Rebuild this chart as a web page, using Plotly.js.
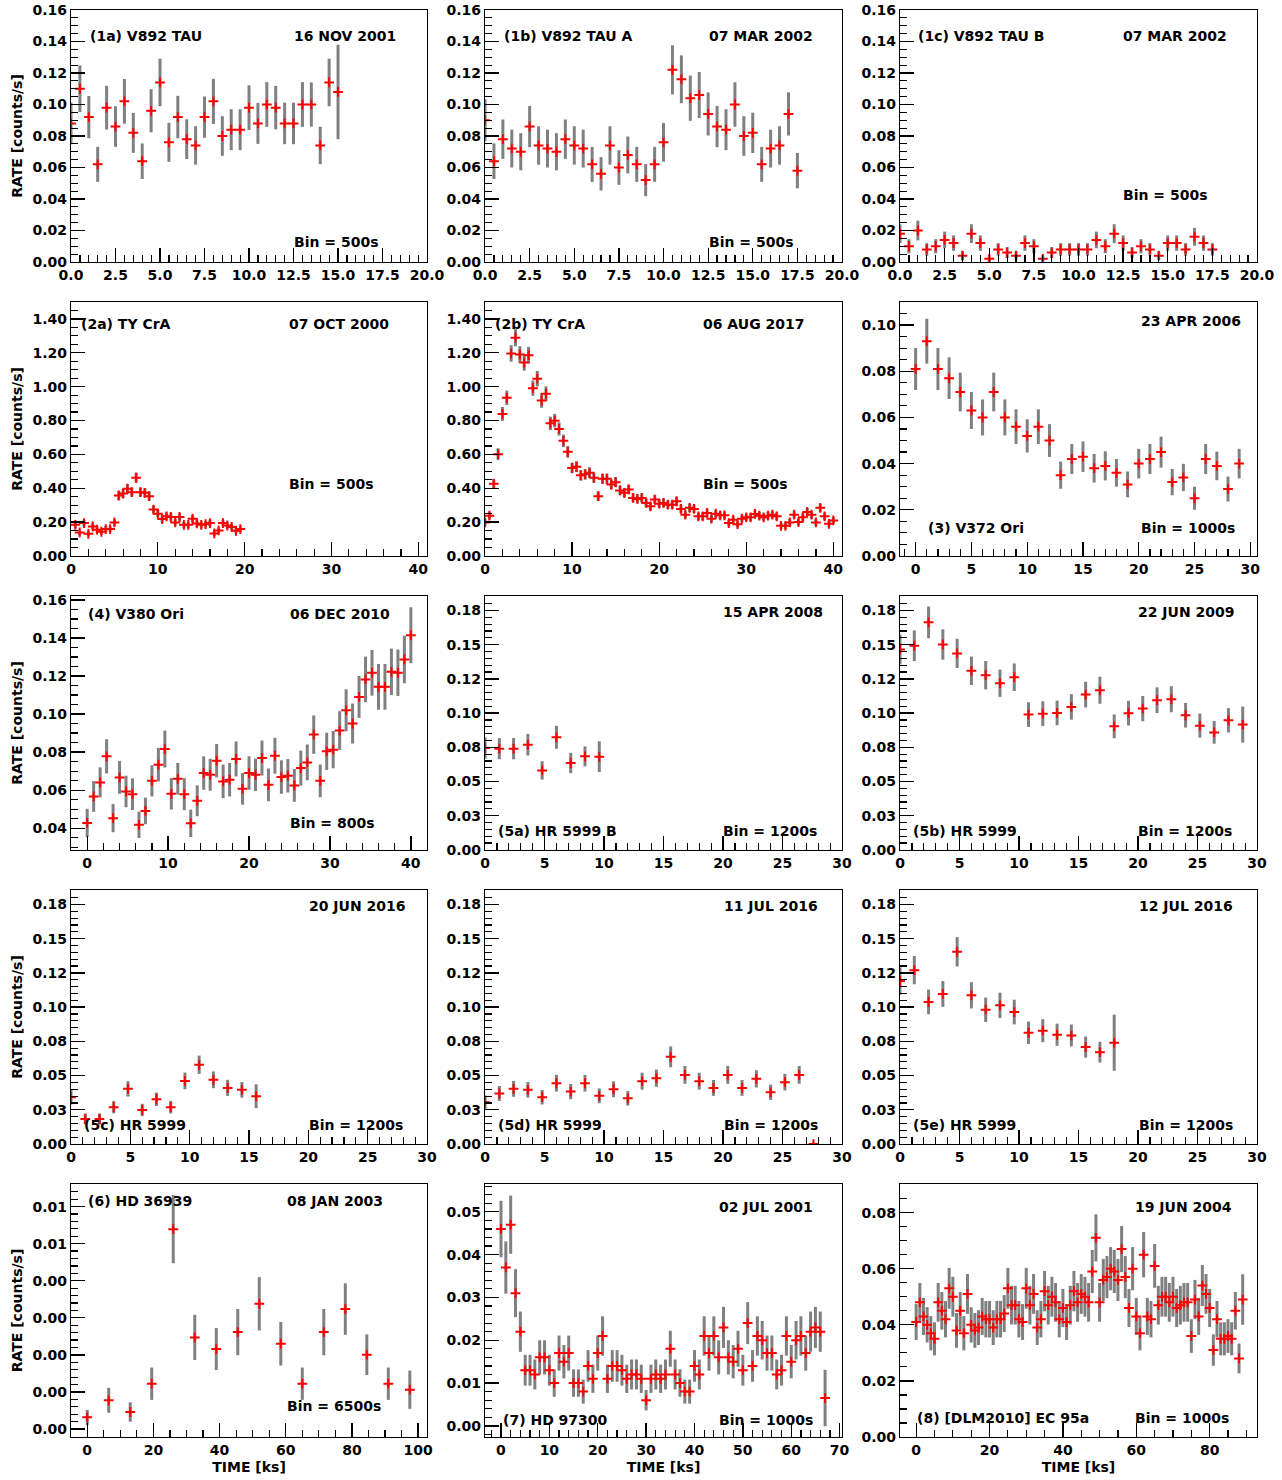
<!DOCTYPE html>
<html>
<head>
<meta charset="utf-8">
<script src="https://cdn.plot.ly/plotly-3.0.1.min.js"></script>
<style>
  html, body { margin: 0; padding: 0; background: #ffffff; }
  #lc { width: 1282px; height: 1480px; }
</style>
</head>
<body>
<div id="lc"></div>
<script>
// ---- X-ray light curves: time (ks), rate (counts/s), 1-sigma error ----

// (1a) V892 TAU, 16 NOV 2001, bin 500 s
const t1a = [0,0.5,1,1.5,2,2.5,3,3.5,4,4.5,5,5.5,6,6.5,7,7.5,8,8.5,9,9.5,10,10.5,11,11.5,12,12.5,13,13.5,14,14.5,15];
const r1a = [0.088,0.110,0.092,0.062,0.098,0.086,0.102,0.082,0.064,0.096,0.114,0.076,0.092,0.078,0.074,0.092,0.102,0.080,0.084,0.084,0.098,0.088,0.100,0.098,0.088,0.088,0.100,0.100,0.074,0.114,0.108];
const e1a = [0.0133,0.0148,0.0134,0.0111,0.0139,0.0129,0.0142,0.0127,0.0113,0.0137,0.0151,0.0124,0.0135,0.0126,0.0122,0.0131,0.0143,0.0126,0.0130,0.0130,0.0142,0.0130,0.0142,0.0138,0.0132,0.0132,0.0142,0.0140,0.0119,0.0151,0.0300];

// (1b) V892 TAU A, 07 MAR 2002, bin 500 s
const t1b = [0,0.5,1,1.5,2,2.5,3,3.5,4,4.5,5,5.5,6,6.5,7,7.5,8,8.5,9,9.5,10,10.5,11,11.5,12,12.5,13,13.5,14,14.5,15,15.5,16,16.5,17,17.5];
const r1b = [0.090,0.064,0.078,0.072,0.070,0.086,0.074,0.072,0.070,0.078,0.074,0.072,0.062,0.056,0.074,0.060,0.068,0.062,0.052,0.062,0.076,0.122,0.116,0.104,0.106,0.094,0.086,0.084,0.100,0.080,0.082,0.062,0.072,0.074,0.094,0.058];
const e1b = [0.0134,0.0113,0.0125,0.0120,0.0118,0.0131,0.0122,0.0120,0.0118,0.0125,0.0122,0.0120,0.0111,0.0106,0.0122,0.0110,0.0117,0.0111,0.0102,0.0111,0.0123,0.0156,0.0152,0.0144,0.0146,0.0137,0.0131,0.0130,0.0141,0.0126,0.0128,0.0111,0.0120,0.0122,0.0137,0.0112];

// (1c) V892 TAU B, 07 MAR 2002, bin 500 s
const t1c = [0,0.5,1,1.5,2,2.5,3,3.5,4,4.5,5,5.5,6,6.5,7,7.5,8,8.5,9,9.5,10,10.5,11,11.5,12,12.5,13,13.5,14,14.5,15,15.5,16,16.5,17,17.5];
const r1c = [0.018,0.010,0.020,0.008,0.010,0.014,0.012,0.004,0.018,0.012,0.002,0.008,0.006,0.004,0.012,0.010,0.002,0.006,0.008,0.008,0.008,0.008,0.014,0.010,0.018,0.012,0.006,0.010,0.008,0.004,0.012,0.012,0.008,0.016,0.012,0.008];
const e1c = [0.0060,0.0045,0.0063,0.0040,0.0045,0.0053,0.0049,0.0028,0.0060,0.0049,0.0020,0.0040,0.0035,0.0028,0.0049,0.0045,0.0020,0.0035,0.0040,0.0040,0.0040,0.0040,0.0053,0.0045,0.0060,0.0049,0.0035,0.0045,0.0040,0.0028,0.0049,0.0049,0.0040,0.0057,0.0049,0.0040];

// (2a) TY CrA, 07 OCT 2000, bin 500 s
const t2a = [0.5,1,1.5,2,2.5,3,3.5,4,4.5,5,5.5,6,6.5,7,7.5,8,8.5,9,9.5,10,10.5,11,11.5,12,12.5,13,13.5,14,14.5,15,15.5,16,16.5,17,17.5,18,18.5,19,19.5];
const r2a = [0.184,0.139,0.194,0.131,0.174,0.155,0.143,0.159,0.159,0.198,0.357,0.369,0.397,0.377,0.462,0.377,0.373,0.353,0.274,0.250,0.218,0.234,0.230,0.198,0.230,0.184,0.184,0.220,0.192,0.184,0.188,0.194,0.133,0.151,0.194,0.180,0.171,0.149,0.159];
const e2a = [0.019,0.017,0.020,0.016,0.019,0.018,0.017,0.018,0.018,0.020,0.027,0.027,0.028,0.027,0.030,0.027,0.027,0.027,0.023,0.022,0.021,0.022,0.021,0.020,0.021,0.019,0.019,0.021,0.020,0.019,0.019,0.020,0.016,0.017,0.020,0.019,0.018,0.017,0.018];

// (2b) TY CrA, 06 AUG 2017, bin 500 s
const t2b = [0,0.5,1,1.5,2,2.5,3,3.5,4,4.5,5,5.5,6,6.5,7,7.5,8,8.5,9,9.5,10,10.5,11,11.5,12,12.5,13,13.5,14,14.5,15,15.5,16,16.5,17,17.5,18,18.5,19,19.5,20,20.5,21,21.5,22,22.5,23,23.5,24,24.5,25,25.5,26,26.5,27,27.5,28,28.5,29,29.5,30,30.5,31,31.5,32,32.5,33,33.5,34,34.5,35,35.5,36,36.5,37,37.5,38,38.5,39,39.5,40];
const r2b = [0.198,0.238,0.426,0.601,0.839,0.934,1.196,1.289,1.190,1.142,
             1.186,0.991,1.047,0.918,0.958,0.783,0.799,0.750,0.680,0.615,
             0.520,0.527,0.476,0.482,0.492,0.462,0.353,0.456,0.456,0.422,
             0.436,0.387,0.373,0.393,0.343,0.337,0.343,0.313,0.293,0.333,
             0.309,0.313,0.303,0.303,0.323,0.278,0.244,0.284,0.278,0.234,
             0.234,0.254,0.220,0.250,0.240,0.240,0.194,0.214,0.188,0.220,
             0.228,0.228,0.248,0.238,0.228,0.238,0.244,0.234,0.178,0.178,
             0.198,0.244,0.200,0.228,0.260,0.244,0.198,0.284,0.234,0.190,0.210];
const e2b = [0.020,0.022,0.029,0.035,0.041,0.043,0.049,0.051,0.049,0.048,
             0.049,0.045,0.046,0.043,0.044,0.040,0.040,0.039,0.037,0.035,
             0.032,0.032,0.031,0.031,0.031,0.030,0.027,0.030,0.030,0.029,
             0.030,0.028,0.027,0.028,0.026,0.026,0.026,0.025,0.024,0.026,
             0.025,0.025,0.025,0.025,0.025,0.024,0.022,0.024,0.024,0.022,
             0.022,0.023,0.021,0.022,0.022,0.022,0.020,0.021,0.019,0.021,
             0.021,0.021,0.022,0.022,0.021,0.022,0.022,0.022,0.019,0.019,
             0.020,0.022,0.020,0.021,0.023,0.022,0.020,0.024,0.022,0.019,0.020];

// (3) V372 Ori, 23 APR 2006, bin 1000 s
const t3 = [0,1,2,3,4,5,6,7,8,9,10,11,12,13,14,15,16,17,18,19,20,21,22,23,24,25,26,27,28,29];
const r3 = [0.081,0.093,0.081,0.077,0.071,0.063,0.060,0.071,0.060,0.056,0.052,0.056,0.050,0.035,0.042,0.043,0.038,0.039,0.036,0.031,0.040,0.042,0.045,0.032,0.034,0.025,0.042,0.039,0.029,0.040];
const e3 = [0.0091,0.0097,0.0091,0.0090,0.0084,0.0080,0.0078,0.0084,0.0078,0.0075,0.0072,0.0075,0.0071,0.0059,0.0065,0.0066,0.0062,0.0063,0.0060,0.0056,0.0064,0.0065,0.0067,0.0057,0.0059,0.0050,0.0065,0.0062,0.0054,0.0064];

// (4) V380 Ori, 06 DEC 2010, bin 800 s
const t4 = [0,0.8,1.6,2.4,3.2,4,4.8,5.6,6.4,7.2,8,8.8,9.6,10.4,11.2,12,12.8,13.6,14.4,15.2,16,16.8,17.6,18.4,19.2,20,20.8,21.6,22.4,23.2,24,24.8,25.6,26.4,27.2,28,28.8,29.6,30.4,31.2,32,32.8,33.6,34.4,35.2,36,36.8,37.6,38.4,39.2,40];
const r4 = [0.0428,0.0567,0.0641,0.0778,0.0453,0.0667,0.0593,0.0579,0.0418,0.0491,
            0.0649,0.0734,0.0816,0.0581,0.0660,0.0579,0.0426,0.0544,0.0690,0.0681,
            0.0755,0.0646,0.0655,0.0764,0.0607,0.0690,0.0681,0.0769,0.0628,0.0781,
            0.0669,0.0676,0.0625,0.0716,0.0746,0.0892,0.0649,0.0804,0.0813,0.0913,
            0.1020,0.0950,0.1090,0.1182,0.1217,0.1143,0.1143,0.1222,0.1217,0.1287,0.1414];
const e4 = [0.0074,0.0081,0.0079,0.0090,0.0074,0.0086,0.0083,0.0083,0.0069,0.0070,
            0.0082,0.0088,0.0097,0.0083,0.0083,0.0084,0.0072,0.0081,0.0088,0.0084,
            0.0088,0.0088,0.0088,0.0092,0.0083,0.0088,0.0085,0.0092,0.0086,0.0094,
            0.0088,0.0088,0.0086,0.0092,0.0094,0.0101,0.0086,0.0098,0.0098,0.0102,
            0.0110,0.0105,0.0110,0.0120,0.0120,0.0120,0.0120,0.0122,0.0122,0.0125,0.0147];

// (5a) HR 5999 B, 15 APR 2008, bin 1200 s
const t5a = [0,1.2,2.4,3.6,4.8,6.0,7.2,8.4,9.6];
const r5a = [0.0745,0.0740,0.0740,0.0769,0.0581,0.0823,0.0635,0.0684,0.0681];
const e5a = [0.0078,0.0077,0.0078,0.0079,0.0067,0.0084,0.0074,0.0073,0.0112];

// (5b) HR 5999, 22 JUN 2009, bin 1200 s
const t5b = [0,1.2,2.4,3.6,4.8,6.0,7.2,8.4,9.6,10.8,12.0,13.2,14.4,15.6,16.8,18.0,19.2,20.4,21.6,22.8,24.0,25.2,26.4,27.6,28.8];
const r5b = [0.1465,0.1492,0.1663,0.1501,0.1436,0.1309,0.1277,0.1218,0.1262,0.0989,0.0996,0.1001,0.1045,0.1135,0.1167,0.0903,0.0999,0.1033,0.1094,0.1101,0.0984,0.0908,0.0859,0.0947,0.0916];
const e5b = [0.0110,0.0112,0.0116,0.0111,0.0107,0.0104,0.0104,0.0100,0.0101,0.0090,0.0090,0.0090,0.0093,0.0094,0.0099,0.0087,0.0090,0.0092,0.0094,0.0095,0.0090,0.0088,0.0083,0.0089,0.0132];

// (5c) HR 5999, 20 JUN 2016, bin 1200 s
const t5c = [0,1.2,2.4,3.6,4.8,6.0,7.2,8.4,9.6,10.8,12.0,13.2,14.4,15.6];
const r5c = [0.0342,0.0183,0.0183,0.0269,0.0403,0.0249,0.0327,0.0269,0.0461,0.0579,0.0469,0.0410,0.0396,0.0349];
const e5c = [0.0053,0.0040,0.0040,0.0045,0.0056,0.0045,0.0049,0.0046,0.0061,0.0067,0.0061,0.0059,0.0057,0.0087];

// (5d) HR 5999, 11 JUL 2016, bin 1200 s
const t5d = [0,1.2,2.4,3.6,4.8,6.0,7.2,8.4,9.6,10.8,12.0,13.2,14.4,15.6,16.8,18.0,19.2,20.4,21.6,22.8,24.0,25.2,26.4,27.6];
const r5d = [0.0305,0.0369,0.0403,0.0396,0.0342,0.0444,0.0383,0.0444,0.0352,0.0400,0.0334,0.0459,0.0481,0.0637,0.0505,0.0459,0.0410,0.0505,0.0410,0.0476,0.0378,0.0452,0.0505,0.0000];
const e5d = [0.0050,0.0055,0.0058,0.0057,0.0053,0.0061,0.0056,0.0061,0.0054,0.0058,0.0053,0.0062,0.0063,0.0076,0.0065,0.0062,0.0058,0.0065,0.0058,0.0063,0.0056,0.0061,0.0065,0.0010];

// (5e) HR 5999, 12 JUL 2016, bin 1200 s
const t5e = [0,1.2,2.4,3.6,4.8,6.0,7.2,8.4,9.6,10.8,12.0,13.2,14.4,15.6,16.8,18.0];
const r5e = [0.1191,0.1270,0.1038,0.1096,0.1404,0.1086,0.0981,0.1013,0.0964,0.0813,0.0828,0.0798,0.0793,0.0708,0.0671,0.0740];
const e5e = [0.0100,0.0103,0.0090,0.0094,0.0107,0.0096,0.0089,0.0093,0.0090,0.0082,0.0084,0.0081,0.0080,0.0077,0.0076,0.0205];

// (6) HD 36939, 08 JAN 2003, bin 6500 s
const t6 = [0,6.5,13,19.5,26,32.5,39,45.5,52,58.5,65,71.5,78,84.5,91,97.5];
const r6 = [0.000314,0.000773,0.000458,0.001222,0.005391,0.002471,0.002156,0.002615,0.003378,0.002300,0.001222,0.002615,0.003235,0.002004,0.001222,0.001060];
const e6 = [0.000202,0.000337,0.000261,0.000436,0.000920,0.000611,0.000566,0.000624,0.000719,0.000588,0.000436,0.000624,0.000696,0.000548,0.000436,0.000517];

// (7) HD 97300, 02 JUL 2001, bin 1000 s
const t7 = [0,1,2,3,4,5,6,7,8,9,10,11,12,13,14,15,16,17,18,19,20,21,22,23,24,25,26,27,28,29,30,31,32,33,34,35,36,37,38,39,40,41,42,43,44,45,46,47,48,49,50,51,52,53,54,55,56,57,58,59,60,61,62,63,64,65,66,67];
const r7 = [0.046,0.037,0.047,0.031,0.022,0.013,0.013,0.012,0.016,0.016,
            0.013,0.010,0.017,0.015,0.017,0.010,0.010,0.008,0.014,0.011,
            0.017,0.021,0.011,0.014,0.014,0.013,0.011,0.012,0.012,0.011,
            0.006,0.011,0.012,0.011,0.012,0.018,0.012,0.010,0.008,0.008,
            0.014,0.012,0.021,0.017,0.021,0.016,0.023,0.016,0.015,0.018,
            0.013,0.024,0.014,0.021,0.020,0.017,0.017,0.012,0.013,0.021,
            0.015,0.020,0.021,0.017,0.022,0.023,0.022,0.0065];
const e7 = [0.0066,0.0061,0.0068,0.0056,0.0047,0.0036,0.0036,0.0035,0.0040,0.0040,
            0.0036,0.0032,0.0041,0.0039,0.0041,0.0032,0.0032,0.0028,0.0037,0.0033,
            0.0041,0.0046,0.0033,0.0037,0.0037,0.0036,0.0033,0.0035,0.0035,0.0033,
            0.0024,0.0033,0.0035,0.0033,0.0035,0.0042,0.0035,0.0032,0.0028,0.0028,
            0.0037,0.0035,0.0046,0.0041,0.0046,0.0040,0.0048,0.0040,0.0039,0.0042,
            0.0036,0.0049,0.0037,0.0046,0.0045,0.0041,0.0041,0.0035,0.0036,0.0046,
            0.0039,0.0045,0.0046,0.0041,0.0047,0.0048,0.0047,0.0066];

// (8) [DLM2010] EC 95a, 19 JUN 2004, bin 1000 s
const t8 = [0,1,2,3,4,5,6,7,8,9,10,11,12,13,14,15,16,17,18,19,20,21,22,23,24,25,26,27,28,29,30,31,32,33,34,35,36,37,38,39,40,41,42,43,44,45,46,47,48,49,50,51,52,53,54,55,56,57,58,59,60,61,62,63,64,65,66,67,68,69,70,71,72,73,74,75,76,77,78,79,80,81,82,83,84,85,86,87,88,89];
const r8 = [0.041,0.048,0.043,0.040,0.037,0.035,0.048,0.045,0.042,0.053,
            0.050,0.038,0.045,0.037,0.051,0.040,0.038,0.039,0.043,0.042,
            0.042,0.039,0.042,0.042,0.044,0.053,0.047,0.047,0.042,0.041,
            0.053,0.047,0.051,0.039,0.042,0.052,0.047,0.050,0.048,0.042,
            0.046,0.041,0.047,0.052,0.048,0.051,0.050,0.048,0.059,0.071,
            0.048,0.056,0.057,0.060,0.059,0.056,0.067,0.057,0.046,0.060,
            0.043,0.037,0.065,0.043,0.042,0.061,0.047,0.050,0.050,0.048,
            0.050,0.046,0.047,0.048,0.048,0.036,0.049,0.043,0.054,0.051,
            0.046,0.031,0.042,0.035,0.035,0.036,0.035,0.045,0.028,0.049];
const e8 = [0.0064,0.0069,0.0066,0.0063,0.0061,0.0059,0.0069,0.0067,0.0065,0.0073,
            0.0071,0.0062,0.0067,0.0061,0.0071,0.0063,0.0062,0.0062,0.0066,0.0065,
            0.0065,0.0062,0.0065,0.0065,0.0066,0.0073,0.0069,0.0069,0.0065,0.0064,
            0.0073,0.0069,0.0071,0.0062,0.0065,0.0072,0.0069,0.0071,0.0069,0.0065,
            0.0068,0.0064,0.0069,0.0072,0.0069,0.0071,0.0071,0.0069,0.0077,0.0084,
            0.0069,0.0075,0.0075,0.0077,0.0077,0.0075,0.0082,0.0075,0.0068,0.0077,
            0.0066,0.0061,0.0081,0.0066,0.0065,0.0078,0.0069,0.0071,0.0071,0.0069,
            0.0071,0.0068,0.0069,0.0069,0.0069,0.0060,0.0070,0.0066,0.0073,0.0071,
            0.0068,0.0056,0.0065,0.0059,0.0059,0.0060,0.0059,0.0067,0.0053,0.0090];

// ---- panel texts ----
const sourceNames = ['(1a) V892 TAU','(1b) V892 TAU A','(1c) V892 TAU B','(2a) TY CrA','(2b) TY CrA',
                     '(3) V372 Ori','(4) V380 Ori','(5a) HR 5999 B','(5b) HR 5999','(5c) HR 5999',
                     '(5d) HR 5999','(5e) HR 5999','(6) HD 36939','(7) HD 97300','(8) [DLM2010] EC 95a'];
const obsDates = ['16 NOV 2001','07 MAR 2002','07 MAR 2002','07 OCT 2000','06 AUG 2017',
                  '23 APR 2006','06 DEC 2010','15 APR 2008','22 JUN 2009','20 JUN 2016',
                  '11 JUL 2016','12 JUL 2016','08 JAN 2003','02 JUL 2001','19 JUN 2004'];
const binLabels = ['Bin = 500s','Bin = 500s','Bin = 500s','Bin = 500s','Bin = 500s',
                   'Bin = 1000s','Bin = 800s','Bin = 1200s','Bin = 1200s','Bin = 1200s',
                   'Bin = 1200s','Bin = 1200s','Bin = 6500s','Bin = 1000s','Bin = 1000s'];
const rateTitle = 'RATE [counts/s]';
const timeTitle = 'TIME [ks]';

// tick labels for the HR 5999 rows and HD 36939 (two-decimal rounding of the tick values)
const hrTickVals = [0,0.025,0.05,0.075,0.1,0.125,0.15,0.175];
const hrTickText = ['0.00','0.03','0.05','0.08','0.10','0.12','0.15','0.18'];
const hdTickVals = [0,0.001,0.002,0.003,0.004,0.005,0.006];
const hdTickText = ['0.00','0.00','0.00','0.00','0.00','0.01','0.01'];

// ---- assembly ----
const series = [[t1a,r1a,e1a],[t1b,r1b,e1b],[t1c,r1c,e1c],[t2a,r2a,e2a],[t2b,r2b,e2b],
                [t3,r3,e3],[t4,r4,e4],[t5a,r5a,e5a],[t5b,r5b,e5b],[t5c,r5c,e5c],
                [t5d,r5d,e5d],[t5e,r5e,e5e],[t6,r6,e6],[t7,r7,e7],[t8,r8,e8]];

// axis scales per panel
const panelAxes = [
  {xr:[0,20], xd:2.5, xf:'.1f', xm:0.5, yr:[0,0.16], yd:0.02, ym:0.005},
  {xr:[0,20], xd:2.5, xf:'.1f', xm:0.5, yr:[0,0.16], yd:0.02, ym:0.005},
  {xr:[0,20], xd:2.5, xf:'.1f', xm:0.5, yr:[0,0.16], yd:0.02, ym:0.005},
  {xr:[0,41], xd:10, xm:2, yr:[0,1.5], yd:0.2, ym:0.05},
  {xr:[0,41], xd:10, xm:2, yr:[0,1.5], yd:0.2, ym:0.05},
  {xr:[-1.4,30.6], xd:5, xm:1, yr:[0,0.11], yd:0.02, ym:0.005},
  {xr:[-2,42], xd:10, xm:2, yr:[0.0286,0.162], yd:0.02, ym:0.005},
  {xr:[0,30], xd:5, xm:1, yr:[0,0.1855], yv:hrTickVals, yt:hrTickText, ym:0.005},
  {xr:[0,30], xd:5, xm:1, yr:[0,0.1855], yv:hrTickVals, yt:hrTickText, ym:0.005},
  {xr:[0,30], xd:5, xm:1, yr:[0,0.1855], yv:hrTickVals, yt:hrTickText, ym:0.005},
  {xr:[0,30], xd:5, xm:1, yr:[0,0.1855], yv:hrTickVals, yt:hrTickText, ym:0.005},
  {xr:[0,30], xd:5, xm:1, yr:[0,0.1855], yv:hrTickVals, yt:hrTickText, ym:0.005},
  {xr:[-4.9,102.7], xd:20, xm:5, yr:[-0.000216,0.00661], yv:hdTickVals, yt:hdTickText, ym:0.0002},
  {xr:[-3.3,70.5], xd:10, xm:2, yr:[-0.0026,0.0565], yd:0.01, ym:0.002},
  {xr:[-4.4,92.9], xd:20, xm:5, yr:[0,0.0902], yd:0.02, ym:0.005}
];

// in-panel text placement (fractions of each plot area): name, date, bin
const textPos = [
  [[0.048,0.897],[0.621,0.897],[0.621,0.079]],
  [[0.048,0.897],[0.622,0.897],[0.622,0.079]],
  [[0.045,0.897],[0.620,0.897],[0.620,0.266]],
  [[0.023,0.913],[0.607,0.913],[0.607,0.283]],
  [[0.023,0.913],[0.606,0.913],[0.606,0.283]],
  [[0.073,0.110],[0.669,0.925],[0.669,0.110]],
  [[0.043,0.929],[0.610,0.929],[0.610,0.106]],
  [[0.031,0.075],[0.662,0.937],[0.662,0.075]],
  [[0.031,0.075],[0.662,0.937],[0.662,0.075]],
  [[0.032,0.075],[0.664,0.937],[0.664,0.075]],
  [[0.032,0.075],[0.664,0.937],[0.664,0.075]],
  [[0.032,0.075],[0.664,0.937],[0.664,0.075]],
  [[0.043,0.933],[0.602,0.933],[0.602,0.122]],
  [[0.045,0.067],[0.650,0.909],[0.650,0.067]],
  [[0.043,0.075],[0.653,0.909],[0.653,0.075]]
];

const XDOM = [[0, 0.3002], [0.3491, 0.6501], [0.699, 1.0]];
const YDOM = [[0.8234, 1.0], [0.6174, 0.7954], [0.4114, 0.5893], [0.2053, 0.3833], [0.0, 0.1773]];

const BOLD = {family: 'DejaVu Sans, Verdana, sans-serif', size: 14, color: '#000000', weight: 'bold'};

function baseAxis() {
  return {
    showgrid: false, zeroline: false, showline: true, mirror: true,
    linecolor: '#000000', linewidth: 1.2,
    ticks: 'inside', ticklen: 14, tickwidth: 1.3, tickcolor: '#000000',
    tickfont: BOLD
  };
}
function minorAxis(d) {
  return {ticks: 'inside', ticklen: 7, tickwidth: 1.2, tickcolor: '#000000', showgrid: false, tick0: 0, dtick: d};
}

const traces = [];
const layout = {
  width: 1282, height: 1480,
  margin: {l: 71, r: 25, t: 10, b: 43},
  paper_bgcolor: '#ffffff', plot_bgcolor: '#ffffff',
  showlegend: false,
  font: BOLD,
  annotations: []
};

series.forEach(function (s, i) {
  const n = i + 1;
  const sfx = n === 1 ? '' : String(n);
  const row = Math.floor(i / 3), col = i % 3;
  const a = panelAxes[i];

  traces.push({
    type: 'scatter', mode: 'markers',
    x: s[0], y: s[1],
    error_y: {type: 'data', array: s[2], visible: true, color: '#808080', thickness: 3, width: 0},
    marker: {symbol: 'cross-thin', size: 7, color: '#ff0000', line: {color: '#ff0000', width: 2}},
    xaxis: 'x' + sfx, yaxis: 'y' + sfx,
    cliponaxis: true, hoverinfo: 'skip', showlegend: false
  });

  const xa = Object.assign(baseAxis(), {
    domain: XDOM[col], anchor: 'y' + sfx, range: a.xr,
    tickmode: 'linear', tick0: 0, dtick: a.xd, minor: minorAxis(a.xm)
  });
  if (a.xf) xa.tickformat = a.xf;
  if (row === 4) xa.title = {text: timeTitle, font: BOLD, standoff: 5};

  const ya = Object.assign(baseAxis(), {
    domain: YDOM[row], anchor: 'x' + sfx, range: a.yr, minor: minorAxis(a.ym)
  });
  if (a.yv) {
    ya.tickmode = 'array'; ya.tickvals = a.yv; ya.ticktext = a.yt;
    ya.minor.tickmode = 'linear';
  } else {
    ya.tickmode = 'linear'; ya.tick0 = 0; ya.dtick = a.yd; ya.tickformat = '.2f';
  }
  if (col === 0) ya.title = {text: rateTitle, font: BOLD, standoff: 6};

  layout['xaxis' + sfx] = xa;
  layout['yaxis' + sfx] = ya;

  const texts = [sourceNames[i], obsDates[i], binLabels[i]];
  texts.forEach(function (txt, k) {
    layout.annotations.push({
      xref: 'x' + sfx + ' domain', yref: 'y' + sfx + ' domain',
      x: textPos[i][k][0], y: textPos[i][k][1],
      xanchor: 'left', yanchor: 'middle',
      text: txt, showarrow: false, font: BOLD
    });
  });
});

Plotly.newPlot('lc', traces, layout, {staticPlot: true, displayModeBar: false});
</script>
</body>
</html>
